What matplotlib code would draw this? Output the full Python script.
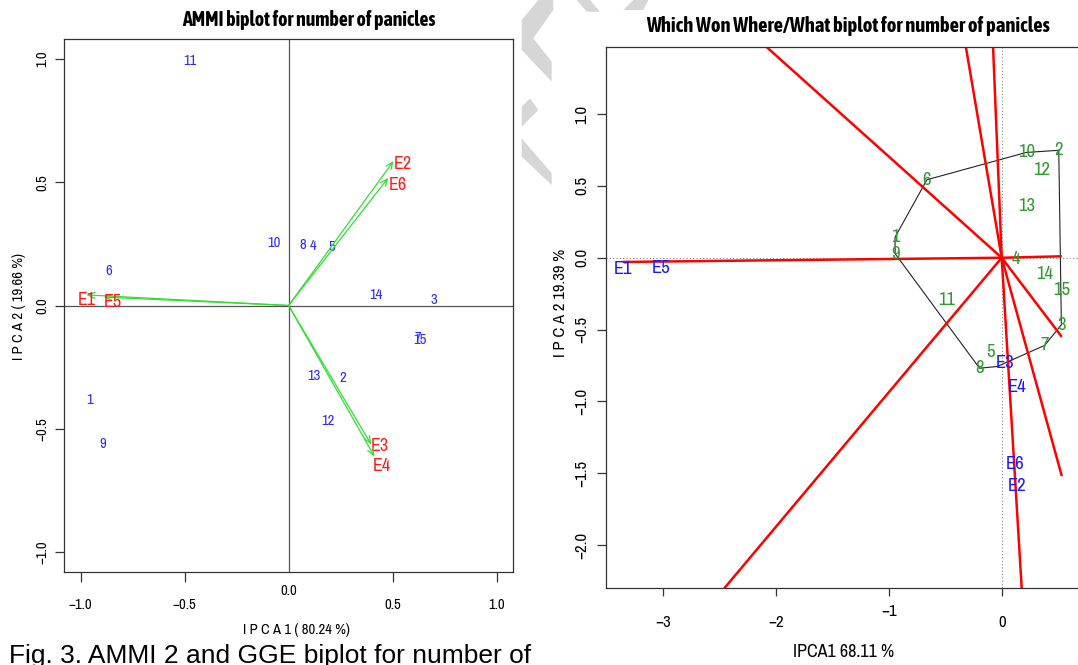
import matplotlib
matplotlib.use('Agg')
import matplotlib.pyplot as plt
from matplotlib import font_manager
from matplotlib.patches import Polygon
import numpy as np

# AMMI biplot (left panel) - genotype and environment scores
ammi_gen = ['1', '2', '3', '4', '5', '6', '7', '8', '9', '10', '11', '12', '13', '14', '15']
ammi_gen_pc1 = [-0.959, 0.260, 0.700, 0.119, 0.205, -0.866, 0.622, 0.066, -0.894, -0.071,
                -0.476, 0.188, 0.122, 0.420, 0.632]
ammi_gen_pc2 = [-0.382, -0.296, 0.024, 0.242, 0.237, 0.140, -0.132, 0.244, -0.561, 0.255,
                0.990, -0.470, -0.287, 0.042, -0.140]
ammi_env = ['E1', 'E2', 'E3', 'E4', 'E5', 'E6']
ammi_env_pc1 = [-0.972, 0.504, 0.397, 0.413, -0.889, 0.479]
ammi_env_pc2 = [0.043, 0.586, -0.564, -0.613, 0.034, 0.518]

# GGE which-won-where biplot (right panel)
gge_gen = ['1', '2', '3', '4', '5', '6', '7', '8', '9', '10', '11', '12', '13', '14', '15']
gge_gen_pc1 = [-0.944, 0.505, 0.528, 0.130, -0.100, -0.662, 0.380, -0.196, -0.943, 0.217,
               -0.490, 0.358, 0.223, 0.377, 0.532]
gge_gen_pc2 = [0.143, 0.748, -0.467, -0.010, -0.658, 0.543, -0.610, -0.769, 0.028, 0.733,
               -0.294, 0.612, 0.360, -0.113, -0.227]
gge_env = ['E1', 'E2', 'E3', 'E4', 'E5', 'E6']
gge_env_pc1 = [-3.354, 0.137, 0.030, 0.137, -3.015, 0.122]
gge_env_pc2 = [-0.081, -1.591, -0.736, -0.898, -0.074, -1.434]
# polygon corners, clockwise from genotype 2 (one bend sits under the E3 label)
hull_pc1 = [0.505, 0.528, 0.380, -0.040, -0.196, -0.943, -0.944, -0.662, 0.217]
hull_pc2 = [0.748, -0.467, -0.610, -0.757, -0.769, 0.028, 0.143, 0.543, 0.733]

W, H = 1078, 665
# R draws these panels in a narrow Helvetica, a condensed face is closest
names = {f.name for f in font_manager.fontManager.ttflist}
if 'Archivo Narrow' in names:
    family, k = 'Archivo Narrow', 1.0
else:
    family, k = 'Liberation Sans', 0.82
title_family = ['Asap Condensed', 'Liberation Sans'] if 'Asap Condensed' in names else ['Liberation Sans']
plt.rcParams['font.family'] = [family, 'DejaVu Sans']


def fx(px):
    return px / W


def fy(py):
    return 1 - py / H


fig = plt.figure(figsize=(W / 100, H / 100), dpi=100)

# faint watermark from the source page
marks = [
    [(538.3, 0), (521.7, 20), (521.7, 50), (551.7, 81.7), (551.7, 61.7), (533.3, 38.3), (553.3, 10), (553.3, 0)],
    [(521.7, 106.7), (530, 98.3), (538.3, 110), (521.7, 126.7)],
    [(521.7, 138.3), (551.7, 173.3), (551.7, 185), (521.7, 156.7)],
    [(576.7, 0), (590, 0), (600, 11.7), (586.7, 11.7)],
    [(633.3, 0), (648.3, 0), (643.3, 10), (623.3, 10)],
]
for m in marks:
    fig.add_artist(Polygon([(fx(a), fy(b)) for a, b in m], closed=True,
                           transform=fig.transFigure, facecolor='#d6d6d6', edgecolor='none'))

# ---------------- left: AMMI ----------------
ax1 = fig.add_axes([fx(64), fy(571.7), fx(513.3) - fx(64), fy(39.3) - fy(571.7)])
ax1.set_xlim(-1.08, 1.08)
ax1.set_ylim(-1.08, 1.08)
ax1.axhline(0, color='#555555', lw=0.9)
ax1.axvline(0, color='#555555', lw=0.9)

for lab, x, y in zip(ammi_gen, ammi_gen_pc1, ammi_gen_pc2):
    ax1.text(x, y, lab, color='#2a2aff', fontsize=10.5 * k, ha='center', va='center')

env_offsets = [(0, -3.5), (6.8, -2.4), (6.1, -1), (5.5, -6.6), (6.5, -3.6), (7.2, -5)]
for lab, x, y, off in zip(ammi_env, ammi_env_pc1, ammi_env_pc2, env_offsets):
    ax1.annotate('', xy=(x, y), xytext=(0, 0),
                 arrowprops=dict(arrowstyle='->,head_length=0.5,head_width=0.22', color='#33dd33',
                                 lw=0.9, shrinkA=0, shrinkB=0, mutation_scale=10))
    ax1.annotate(lab, xy=(x, y), xytext=off, textcoords='offset points',
                 ha='center', va='center', color='#ff1a1a', fontsize=13 * k)

ax1.set_xticks([-1, -0.5, 0, 0.5, 1])
ax1.set_xticklabels(['\u22121.0', '\u22120.5', '0.0', '0.5', '1.0'])
ax1.set_yticks([-1, -0.5, 0, 0.5, 1])
ax1.set_yticklabels(['\u22121.0', '\u22120.5', '0.0', '0.5', '1.0'])
ax1.tick_params(axis='x', direction='out', length=7.2, width=0.9, color='#333333',
                labelsize=10.5 * k, pad=11.5)
ax1.tick_params(axis='y', direction='out', length=6.5, width=0.9, color='#333333',
                labelsize=10.5 * k, pad=4.2)
for lbl in ax1.get_yticklabels():
    lbl.set_rotation(90)
    lbl.set_va('center')
t0 = ax1.xaxis.get_major_ticks()[2]
t0.tick1line.set_visible(False)
t0.set_pad(2.0)
for s in ax1.spines.values():
    s.set_color('#333333')
    s.set_linewidth(0.9)

fig.text(fx(309), fy(19.7), 'AMMI biplot for number of panicles', fontsize=14.3,
         family=title_family, fontweight='bold', ha='center', va='center')
fig.text(fx(296.7), fy(630), 'I P C A 1 ( 80.24 %)', fontsize=10.5 * k, ha='center', va='center')
fig.text(fx(19), fy(307), 'I P C A 2 ( 19.66 %)', fontsize=10.5 * k, ha='center', va='center',
         rotation=90)

# ---------------- right: GGE which-won-where ----------------
ax2 = fig.add_axes([fx(606), fy(588.3), fx(1086) - fx(606), fy(47.3) - fy(588.3)])
ax2.set_xlim(-3.502, 0.746)
ax2.set_ylim(-2.301, 1.465)
ax2.axhline(0, color='#888888', lw=0.8, ls=(0, (1, 2)))
ax2.axvline(0, color='#888888', lw=0.8, ls=(0, (1, 2)))

hx = np.array(hull_pc1)
hy = np.array(hull_pc2)
ax2.plot(np.append(hx, hx[0]), np.append(hy, hy[0]), color='#222222', lw=0.8)

# rays from the origin perpendicular to each polygon side
all_x = np.concatenate([gge_gen_pc1, gge_env_pc1])
x_lo, x_hi = all_x.min(), all_x.max()
y_lo, y_hi = ax2.get_ylim()
for i in range(len(hx)):
    dx = hx[(i + 1) % len(hx)] - hx[i]
    dy = hy[(i + 1) % len(hy)] - hy[i]
    nx, ny = -dy, dx
    t = min(x_hi / nx if nx > 0 else x_lo / nx, y_hi / ny if ny > 0 else y_lo / ny)
    ax2.plot([0, nx * t], [0, ny * t], color='#ff0000', lw=1.8, solid_capstyle='butt')

for lab, x, y in zip(gge_gen, gge_gen_pc1, gge_gen_pc2):
    ax2.text(x, y, lab, color='#2f9a2f', fontsize=13.5 * k, ha='center', va='center')
for lab, x, y in zip(gge_env, gge_env_pc1, gge_env_pc2):
    ax2.text(x, y, lab, color='#1a1aff', fontsize=13.5 * k, ha='center', va='center')

ax2.set_xticks([-3, -2, -1, 0])
ax2.set_xticklabels(['\u22123', '\u22122', '\u22121', '0'])
ax2.set_yticks([-2, -1.5, -1, -0.5, 0, 0.5, 1])
ax2.set_yticklabels(['\u22122.0', '\u22121.5', '\u22121.0', '\u22120.5', '0.0', '0.5', '1.0'])
ax2.tick_params(axis='x', direction='out', length=6, width=0.9, color='#333333',
                labelsize=12 * k, pad=13)
ax2.tick_params(axis='y', direction='out', length=6.3, width=0.9, color='#333333',
                labelsize=12 * k, pad=6)
for lbl in ax2.get_yticklabels():
    lbl.set_rotation(90)
    lbl.set_va('center')
ax2.xaxis.get_major_ticks()[2].set_pad(5.2)
for s in ax2.spines.values():
    s.set_color('#333333')
    s.set_linewidth(0.9)

fig.text(fx(848), fy(25.7), 'Which Won Where/What biplot for number of panicles', fontsize=14.8,
         family=title_family, fontweight='bold', ha='center', va='center')
fig.text(fx(843.3), fy(651.7), 'IPCA1 68.11 %', fontsize=13 * k, ha='center', va='center')
fig.text(fx(560.6), fy(303), 'I P C A 2 19.39 %', fontsize=12 * k, ha='center', va='center',
         rotation=90)

# caption from the page, cut at the bottom edge
fig.text(fx(9), fy(663.5), 'Fig. 3. AMMI 2 and GGE biplot for number of', fontsize=19,
         family=['Liberation Sans', 'DejaVu Sans'], ha='left', va='baseline')

fig.savefig('out.png', dpi=100)
